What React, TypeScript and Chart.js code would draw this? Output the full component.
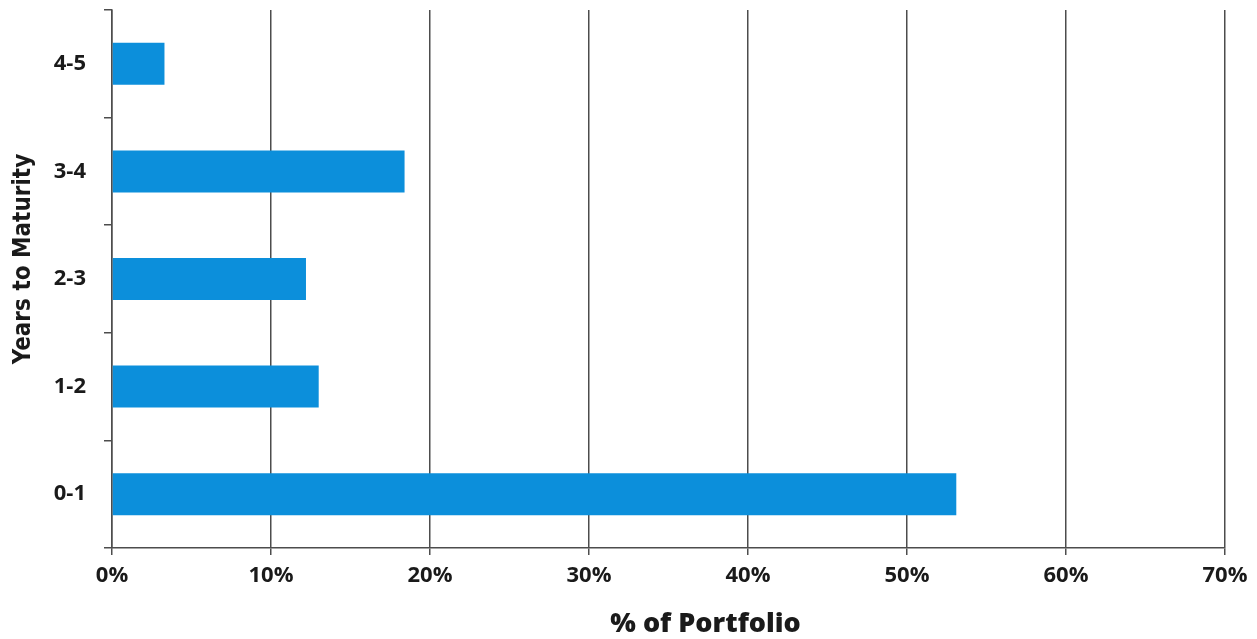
import React, { useEffect, useRef } from "react";
import { Chart, registerables } from "chart.js";

Chart.register(...registerables);

const categories = ["4-5", "3-4", "2-3", "1-2", "0-1"];
const portfolioPct = [3.3, 18.4, 12.2, 13.0, 53.1];
const xTickMax = 70;
const xTickStep = 10;
const yTitle = "Years to Maturity";
const xTitle = "% of Portfolio";

const titlePlugin = {
  id: "axisTitlesCustom",
  afterDraw(chart: any) {
    const { ctx, chartArea } = chart;
    ctx.save();
    ctx.fillStyle = "#1a1a1a";
    ctx.textAlign = "center";
    ctx.textBaseline = "middle";
    ctx.font = "800 27px 'Open Sans'";
    ctx.fillText(xTitle, (chartArea.left + chartArea.right) / 2 + 37, 624);
    ctx.translate(24, (chartArea.top + chartArea.bottom) / 2 - 20);
    ctx.rotate(-Math.PI / 2);
    ctx.font = "bold 24px 'DejaVu Sans Condensed', 'DejaVu Sans'";
    ctx.fillText(yTitle, 0, 0);
    ctx.restore();
  },
};

export default function App() {
  const ref = useRef<HTMLCanvasElement | null>(null);
  useEffect(() => {
    if (!ref.current) return;
    const grid = "#4d4d4d";
    const chart = new Chart(ref.current, {
      type: "bar",
      data: {
        labels: categories,
        datasets: [
          {
            data: portfolioPct,
            backgroundColor: "#0c8fdb",
            borderWidth: 0,
            categoryPercentage: 1,
            barPercentage: 0.39,
          },
        ],
      },
      plugins: [titlePlugin],
      options: {
        indexAxis: "y",
        animation: false,
        responsive: false,
        maintainAspectRatio: false,
        layout: { padding: { top: 10, right: 32, left: 0, bottom: 0 } },
        plugins: { legend: { display: false }, tooltip: { enabled: false } },
        scales: {
          x: {
            min: 0,
            max: xTickMax,
            ticks: {
              stepSize: xTickStep,
              callback: (v: any) => v + "%",
              color: "#1a1a1a",
              font: { family: "'Open Sans'", size: 22, weight: "bold" },
              padding: 8,
            },
            grid: {
              color: grid,
              lineWidth: 1.5,
              tickLength: 7,
              drawTicks: true,
            },
            border: { color: grid, width: 1.5 },
            title: { display: false },
            afterFit: (s: any) => {
              s.height = 91;
              s.paddingLeft = 0;
              s.paddingRight = 0;
            },
          },
          y: {
            ticks: {
              color: "#1a1a1a",
              font: { family: "'Open Sans'", size: 22, weight: "bold" },
              padding: 18,
            },
            grid: {
              offset: true,
              drawOnChartArea: false,
              drawTicks: true,
              tickLength: 8,
              color: grid,
              lineWidth: 1.5,
            },
            border: { color: grid, width: 1.5 },
            title: { display: false },
            afterFit: (s: any) => {
              s.width = 112;
              s.paddingTop = 0;
              s.paddingBottom = 0;
            },
          },
        },
      },
    });
    return () => chart.destroy();
  }, []);
  return (
    <div style={{ position: "fixed", left: 0, top: 0, width: 1257, height: 639, background: "#fff" }}>
      <canvas ref={ref} width={1257} height={639} style={{ width: 1257, height: 639, display: "block" }} />
    </div>
  );
}
